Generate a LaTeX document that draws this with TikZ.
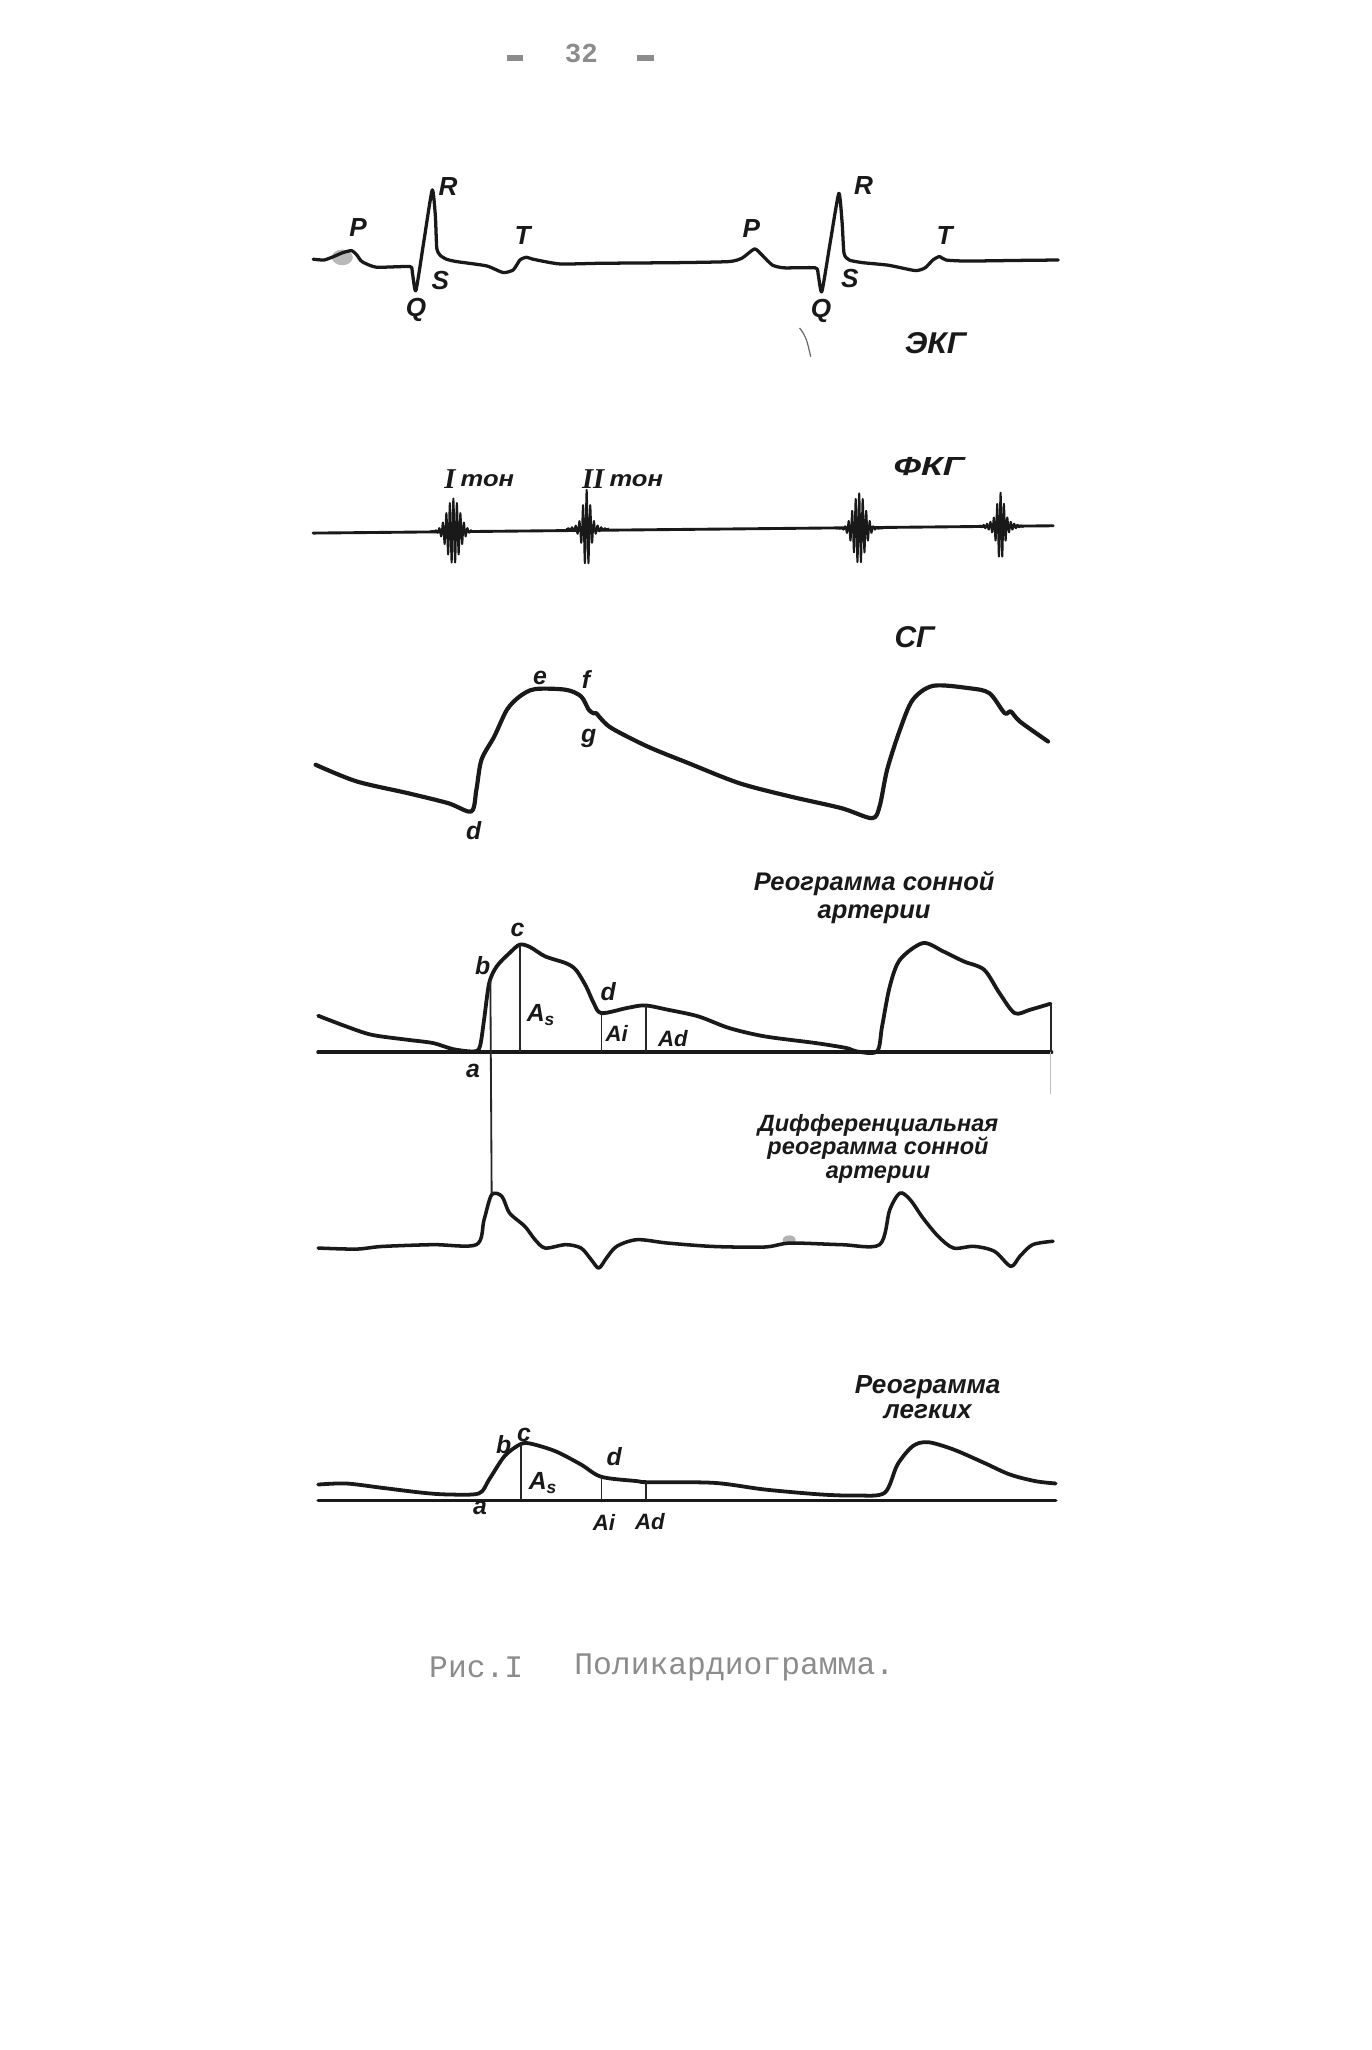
\documentclass[tikz,border=0pt]{standalone}
\usepackage{graphicx}
\usepackage{fontspec}
\setmainfont{Liberation Sans}
\newfontfamily\hand{Liberation Sans}
\newfontfamily\serifb{Liberation Serif}
\newfontfamily\typew{Liberation Mono}
\begin{document}
\begin{tikzpicture}[x=1pt,y=-1pt,
  ink/.style={draw=black!90, line width=2.9pt, line join=round, line cap=round},
  fine/.style={draw=black!85, line width=1.4pt},
  burst/.style={draw=black!90, line width=1.4pt, line join=round},
  lab/.style={font=\hand\bfseries\itshape\fontsize{19}{19}\selectfont, text=black!90, inner sep=0pt},
  small/.style={font=\hand\bfseries\itshape\fontsize{17}{17}\selectfont, text=black!90, inner sep=0pt},
  capl/.style={font=\hand\bfseries\itshape\fontsize{20}{20}\selectfont, text=black!90, inner sep=0pt},
  roman/.style={font=\serifb\bfseries\itshape\fontsize{22}{22}\selectfont, text=black!90, inner sep=0pt},
  bigl/.style={font=\hand\bfseries\itshape\fontsize{23}{23}\selectfont, text=black!90, inner sep=0pt},
  ttl/.style={font=\hand\bfseries\itshape\fontsize{18}{18}\selectfont, text=black!90, inner sep=0pt, align=center},
  typed/.style={font=\typew\fontsize{24}{24}\selectfont, text=black!45, inner sep=0pt}]
\useasboundingbox (0,0) rectangle (1050,1569);
\fill[white] (0,0) rectangle (1050,1569);

% page number
\node[typed, font=\typew\bfseries\fontsize{21}{21}\selectfont] (pn) at (445,41) {32};
\node[typed] (pl) at (394,44.6) {\rule{12pt}{4.5pt}};
\node[typed] (pr) at (494,44.6) {\rule{13pt}{4.5pt}};

% ===== ECG =====
\fill[black!50, opacity=.55] (262,197) ellipse (8 and 6);
\draw[ink, line width=2.5pt] plot[smooth, tension=0.35] coordinates {(239.7,198.4) (248,199) (255,196.5) (262,193.5) (269,191.8) (273,195) (277,200.2) (288,204.5) (313.5,204) (315.5,208) (318.3,222.4) (324.5,184) (330.8,145.4) (333.2,165) (334.3,190) (337,195.5) (342,198.5) (349.4,200.2) (372.4,203.5) (385,208.6) (392.8,206.6) (398,198.9) (403,196.9) (408,198.4) (428.5,202) (460,201.5) (520,201) (558,200.2) (568,197.5) (577.5,190.5) (583,195) (591,202.8) (600,205) (624,205) (626.2,210) (629,223.2) (635.5,185) (642,148) (644.5,170) (646,194) (650,199) (660,201) (680,203) (700.5,207.1) (708,205) (714,199) (719,196.4) (724,199) (740,199.8) (780,199.3) (809.9,199)};
\draw[black!60, line width=0.9pt] (612,251) .. controls (617,258) .. (620.5,273);
\node[capl] (P1) at (274,174) {P};
\node[capl] (R1) at (343,143) {R};
\node[capl] (T1) at (400,180) {T};
\node[capl] (S1) at (337,215) {S};
\node[capl] (Q1) at (318.5,237) {Q};
\node[capl] (P2) at (575,175) {P};
\node[capl] (R2) at (661,142) {R};
\node[capl] (T2) at (723,180) {T};
\node[capl] (S2) at (650.5,213) {S};
\node[capl] (Q2) at (628.3,238) {Q};
\node[bigl] (ekg) at (716,263) {\scalebox{1.05}[1]{ЭКГ}};

% ===== FKG =====
\draw[ink, line width=2.2pt] (239.6,408) -- (806,402.4);
\draw[burst] plot[domain=330:364, samples=281] (\x,{406.5-25*exp(0-((\x-347)/7)^2)*sin(360*(\x-347)/2.7+90)});
\draw[burst] plot[domain=433:466, samples=281] (\x,{404.8-(24*exp(0-((\x-449)/3.5)^2)+6*exp(0-((\x-449)/9)^2))*sin(360*(\x-449)/2.8+90)});
\draw[burst] plot[domain=640:676, samples=281] (\x,{404.5-27*exp(0-((\x-657.6)/6.5)^2)*sin(360*(\x-657.6)/2.7+90)});
\draw[burst] plot[domain=748:784, samples=281] (\x,{402.8-(20*exp(0-((\x-765.8)/3.5)^2)+6*exp(0-((\x-765.8)/10)^2))*sin(360*(\x-765.8)/2.6+90)});
\node[roman] (t1a) at (344.3,367) {I};
\node[small] (t1b) at (373,368) {\scalebox{1.15}[1]{тон}};
\node[roman] (t2a) at (454,367) {II};
\node[small] (t2b) at (487,368) {\scalebox{1.15}[1]{тон}};
\node[capl] (fkg) at (711,357) {\scalebox{1.35}[1]{ФКГ}};

% ===== SG =====
\draw[ink, line width=3.2pt] plot[smooth, tension=0.5] coordinates {(241.5,585.3) (272.8,598) (311.9,607) (343,614.7) (360.7,621) (364.6,604.5) (368.5,581.5) (378.3,563.7) (388,543.2) (397.8,533) (409.5,527.4) (433,527.9) (444.7,533) (450.6,543.2) (454.5,546) (456.4,545.8) (459,549) (468.1,557.3) (495.5,571.3) (526.7,584) (565.8,599.4) (604.8,609.6) (643.9,618.5) (667.3,626.2) (673.2,617.2) (679,589) (688.8,558.5) (698.6,535.6) (714.2,524.9) (741.6,526.7) (757.2,530.5) (768.9,545.8) (773.6,544.5) (780.6,552.2) (802.1,567.5)};
\node[lab] (se) at (413.4,519) {e};
\node[lab] (sf) at (448.6,520) {f};
\node[lab] (sg) at (450.5,565) {g};
\node[lab] (sd) at (362.6,636) {d};
\node[bigl] (sgt) at (700,488) {СГ};

% ===== Rheogram of carotid artery =====
\draw[ink] (243.5,805.4) -- (804.8,805.4);
\draw[ink] plot[smooth, tension=0.5] coordinates {(243.5,777.4) (265,785.6) (284.5,792) (311.9,795.8) (331.4,798.3) (347,803) (362.6,804.7) (367.3,800.9) (370.5,780.4) (374.4,752.4) (380.2,739.6) (390,729.4) (397.8,723) (405.6,724.8) (417.3,732) (432.9,737.1) (440.7,742.2) (448.6,755) (454.4,767.7) (460.3,775.4) (479.8,771.5) (493.5,769.5) (511.1,772.8) (534.5,777.9) (558,786.8) (585.3,793.2) (624.3,798.3) (647.8,802.1) (655.6,804.7) (671.2,804.7) (675.1,785.6) (681,755) (688.8,734.5) (706.4,721.8) (722,728.2) (737.6,735.8) (753.2,742.2) (764.9,760) (776.6,775.4) (788.4,772.8) (804,768.2)};
\coordinate (rb) at (375.3,750);
\coordinate (rcT) at (398,723.5);  \coordinate (rcB) at (398,805.4);
\coordinate (rdT) at (460.3,775);  \coordinate (rdB) at (460.3,805.4);
\coordinate (rAT) at (494.3,769.5); \coordinate (rAB) at (494.3,805.4);
\coordinate (reT) at (804.2,768.2); \coordinate (reB) at (804.2,805.4);
\coordinate (reF) at (804.2,837);
\draw[fine] (rcT) -- (rcB);
\draw[fine] (rdT) -- (rdB);
\draw[fine] (rAT) -- (rAB);
\draw[fine] (reT) -- (reB);
\draw[black!25, line width=1pt] (reB) -- (reF);
\node[lab] (rc) at (396,712) {c};
\node[lab] (rbl) at (369.5,739) {b};
\node[lab] (ra) at (362,820) {a};
\node[lab] (rd) at (465.5,759) {d};
\node[lab] (rAs) at (414,777) {A\textsubscript{s}};
\node[small] (rAi) at (472,791) {Ai};
\node[small] (rAd) at (515,794.5) {Ad};
\node[ttl, font=\hand\bfseries\itshape\fontsize{19.5}{22}\selectfont] (rttl) at (669,687) {Реограмма сонной\\артерии};

% ===== Differential rheogram =====
\fill[black!50, opacity=.6] (604,949) ellipse (5 and 3.5);
\draw[ink, line width=2.7pt] plot[smooth, tension=0.5] coordinates {(243.5,955.2) (272.8,956) (292.3,954) (331.4,952.6) (364.6,952.6) (370.5,933.5) (376.3,914.4) (384.1,915.6) (390,928.4) (401.7,938.6) (409.5,948.8) (417.3,955.2) (432.9,952.6) (444.7,955.2) (452.5,964.1) (458.3,970.5) (464.2,962.8) (472,953.9) (487.6,948.8) (511.1,951.4) (546.2,954) (585.3,954.4) (604.8,951.4) (643.9,952.6) (673.2,952.6) (681,925.9) (688.8,913.1) (696.6,918.2) (706.4,932.2) (718.1,946.3) (729.8,955.2) (745.4,953.9) (761.1,957.7) (773.6,969.2) (780.6,961.5) (790.4,952.6) (806,950)};
\coordinate (dpk) at (376.3,914);
\draw[fine] (rb) -- (dpk);
\node[ttl] (dttl) at (672,879) {Дифференциальная\\реограмма сонной\\артерии};

% ===== Lung rheogram =====
\draw[ink] (243.5,1148.4) -- (808,1148.4);
\draw[ink] plot[smooth, tension=0.5] coordinates {(243.5,1136.2) (265,1135.4) (292.3,1138.7) (323.6,1142.5) (343.1,1143.8) (366.5,1143) (374.4,1132.3) (386.1,1114.5) (397.8,1105.6) (405.6,1104.8) (425.1,1110.7) (444.7,1120.9) (460.3,1130.3) (487.6,1133.6) (495.5,1134.4) (546.2,1134.9) (585.3,1140) (628.3,1143.8) (655.6,1144.6) (677.1,1142.5) (686.9,1120.9) (698.6,1106.8) (710.3,1103.8) (729.8,1109.4) (753.2,1119.6) (772.8,1128.5) (792.4,1133.6) (808,1135.4)};
\coordinate (lcT) at (399,1105.2); \coordinate (lcB) at (399,1148.4);
\coordinate (ldT) at (460.3,1130.3); \coordinate (ldB) at (460.3,1148.4);
\coordinate (lAT) at (494.7,1134.4); \coordinate (lAB) at (494.7,1148.4);
\draw[fine] (lcT) -- (lcB);
\draw[fine] (ldT) -- (ldB);
\draw[fine] (lAT) -- (lAB);
\node[lab] (lb) at (385.5,1106) {b};
\node[lab] (lc) at (401,1098) {c};
\node[lab] (ld) at (470,1115) {d};
\node[lab] (lAs) at (415.5,1135) {A\textsubscript{s}};
\node[lab] (la) at (367.3,1154) {a};
\node[small] (lAi) at (462.2,1165.5) {Ai};
\node[small] (lAd) at (497.4,1164.2) {Ad};
\node[ttl, font=\hand\bfseries\itshape\fontsize{20}{19}\selectfont] (lttl) at (710,1069) {Реограмма\\легких};

% ===== caption =====
\node[typed] (cap1) at (364.5,1276) {Рис.I};
\node[typed] (cap2) at (562,1276) {Поликардиограмма.};
\end{tikzpicture}
\end{document}
